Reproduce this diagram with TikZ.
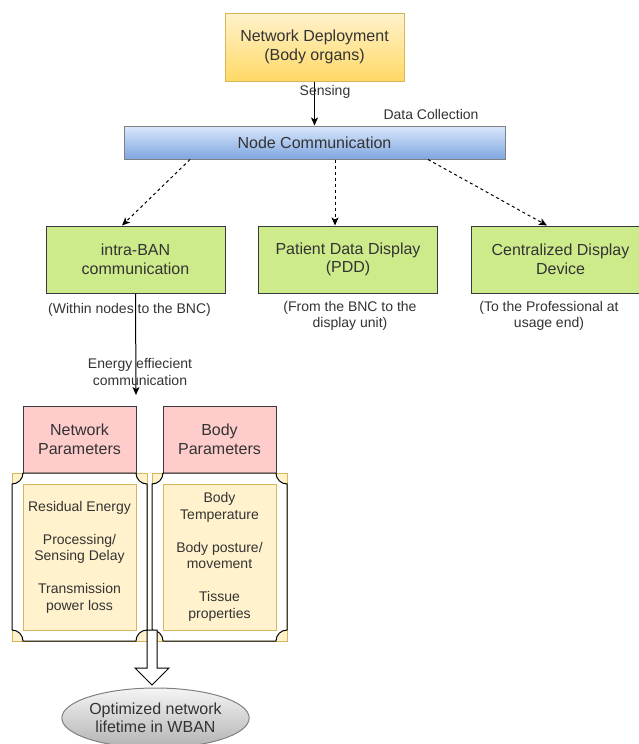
\documentclass[tikz,border=0pt]{standalone}
\usepackage{fontspec}
\setmainfont{Liberation Sans}
\usepackage{tikz}
\usetikzlibrary{arrows.meta,shapes.geometric}

\definecolor{ylight}{HTML}{FFF2CC}
\definecolor{ydark}{HTML}{FFD966}
\definecolor{yline}{HTML}{D6B656}
\definecolor{blight}{HTML}{DAE8FC}
\definecolor{bdark}{HTML}{7EA6E0}
\definecolor{gfill}{HTML}{CDEB8B}
\definecolor{pfill}{HTML}{FFCCCC}
\definecolor{darkline}{HTML}{36393D}
\definecolor{txt}{HTML}{333333}

\begin{document}
\begin{tikzpicture}[x=1pt,y=-1pt,line width=1pt,text=txt,
    bigfont/.style={font=\fontsize{16}{18.5}\selectfont},
    smallfont/.style={font=\fontsize{14}{16.5}\selectfont},
    box/.style={draw=darkline,inner sep=0,align=center,bigfont,
      minimum width=179,minimum height=67},
    greenbox/.style={box,fill=gfill},
    pinkbox/.style={box,fill=pfill,minimum width=113},
    listbox/.style={draw=yline,fill=ylight,inner sep=0,align=center,smallfont,
      minimum width=113,minimum height=146},
    caption/.style={align=center,smallfont,inner sep=0},
    solidarrow/.style={-{Stealth[length=8pt,width=7pt,inset=2pt]}},
    dasharrow/.style={solidarrow,dash pattern=on 3pt off 3pt}]
  \useasboundingbox (0,0) rectangle (638,744);

  % top of the chain
  \node[box,draw=yline,top color=ylight,bottom color=ydark,minimum height=68]
    (nd) at (314.5,47) {Network Deployment\\(Body organs)};
  \node[box,draw=gray,top color=blight,bottom color=bdark,minimum width=381,
    minimum height=33] (nc) at (314.5,142.5) {Node Communication};
  \draw[solidarrow] (nd.south) -- (nc.north);
  \node[smallfont,inner sep=0] (sens) at (325,92) {Sensing};
  \node[smallfont,inner sep=0] (dcol) at (431,114) {Data Collection};

  % the three ways out
  \node[greenbox] (iban) at (135.5,259.5) {intra-BAN\\communication};
  \node[greenbox] (pdd) at (348,259.5) {Patient Data Display\\(PDD)};
  \node[greenbox] (cdd) at (560.5,259.5) {Centralized Display\\Device};
  \draw[dasharrow] ([xshift=-124.5pt]nc.south) -- ([xshift=-13.5pt]iban.north);
  \draw[dasharrow] ([xshift=20.5pt]nc.south) -- ([xshift=-13pt]pdd.north);
  \draw[dasharrow] ([xshift=113.5pt]nc.south) -- ([xshift=-13.5pt]cdd.north);
  \node[caption] (ibancap) at (129.5,310) {(Within nodes to the BNC)};
  \node[caption] (pddcap) at (350,316) {(From the BNC to the\\display unit)};
  \node[caption] (cddcap) at (549,316) {(To the Professional at\\usage end)};

  \coordinate (eend) at (136,395);
  \draw[solidarrow] (iban.south) -- (eend);
  \node[caption] (ecom) at (140,372) {Energy effiecient\\communication};

  % parameters
  \node[pinkbox] (netp) at (79.5,439.5) {Network\\Parameters};
  \node[pinkbox] (bodyp) at (219.5,439.5) {Body\\Parameters};
  \foreach \x in {12,152} {
    \draw[yline,fill=ylight] (\x,473) rectangle (\x+135,641);
    \draw[black,fill=white] (\x+11,473) -- (\x+124,473)
      arc[start angle=180,end angle=270,radius=11pt] -- (\x+135,630)
      arc[start angle=90,end angle=180,radius=11pt] -- (\x+11,641)
      arc[start angle=0,end angle=90,radius=11pt] -- (\x,484)
      arc[start angle=270,end angle=360,radius=11pt] -- cycle;
  }
  \node[listbox] (netlist) at (79.5,557)
    {Residual Energy\\ \\Processing/\\Sensing Delay\\ \\Transmission\\power loss};
  \node[listbox] (bodylist) at (219.5,557)
    {Body\\Temperature\\ \\Body posture/\\movement\\ \\Tissue\\properties};

  % result
  \draw[fill=white] (147,630) -- (147,668) -- (135,668) -- (152,685)
    -- (169,668) -- (157,668) -- (157,630) -- cycle;
  \node[ellipse,draw=gray,top color=black!4,bottom color=black!30,inner sep=0,
    minimum width=185,minimum height=60,bigfont,align=center]
    (wban) at (155.5,718) {Optimized network\\lifetime in WBAN};
\end{tikzpicture}
\end{document}
